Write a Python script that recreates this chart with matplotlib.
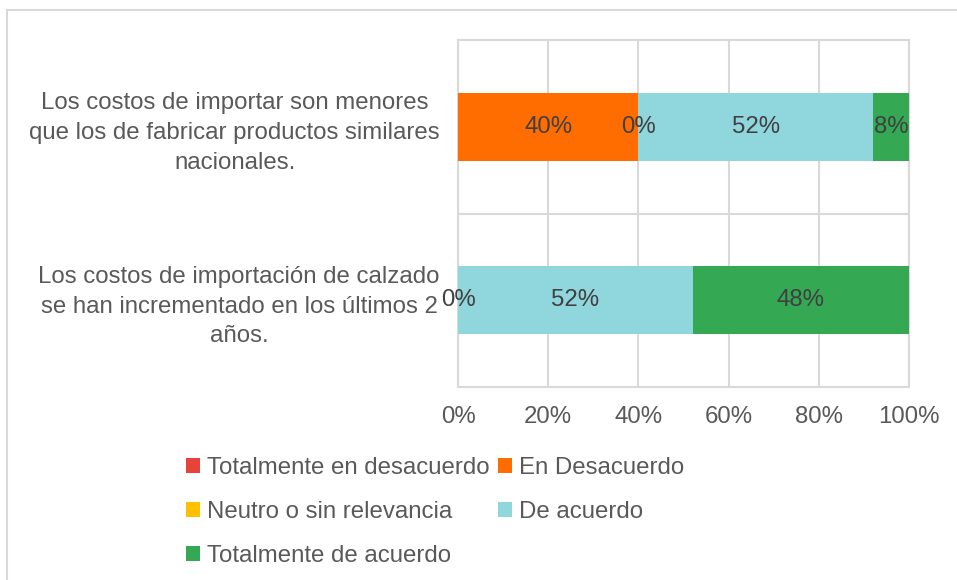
import matplotlib.pyplot as plt
from matplotlib.patches import Rectangle

plt.rcParams['font.family'] = ['Liberation Sans', 'DejaVu Sans']

categories = ["Los costos de importar son menores\nque los de fabricar productos similares\nnacionales.",
              "Los costos de importación de calzado\nse han incrementado en los últimos 2\naños."]
series = ["Totalmente en desacuerdo", "En Desacuerdo", "Neutro o sin relevancia",
          "De acuerdo", "Totalmente de acuerdo"]
values = [[0, 0], [40, 0], [0, 0], [52, 52], [8, 48]]
# which segments carry a visible data label
show_label = [[False, False], [True, False], [True, True], [True, True], [True, True]]
colors = ["#E8433A", "#FF6D00", "#FFC000", "#8FD6DD", "#34A853"]
xticks = [0, 20, 40, 60, 80, 100]
xticklabels = ["0%", "20%", "40%", "60%", "80%", "100%"]

grid_c = "#d9d9d9"
text_c = "#595959"
fs = 17.3

fig = plt.figure(figsize=(9.57, 5.8), dpi=100)
ax = fig.add_axes([458/957, 1-387/580, 451/957, 347/580])

ypos = [0, 1]
left = [0, 0]
handles = []
for i, name in enumerate(series):
    b = ax.barh(ypos, values[i], left=left, height=0.39, color=colors[i], label=name, zorder=3)
    handles.append(b)
    for j in range(len(ypos)):
        if show_label[i][j]:
            ax.text(left[j] + values[i][j] / 2, ypos[j], f"{values[i][j]}%", ha='center', va='center',
                    fontsize=fs, color="#404040", zorder=4)
    left = [left[j] + values[i][j] for j in range(len(ypos))]

ax.set_xlim(0, 100)
ax.set_ylim(1.5, -0.5)
ax.set_xticks(xticks)
ax.set_xticklabels(xticklabels)
ax.set_yticks(ypos)
ax.set_yticklabels(categories, multialignment='center', linespacing=1.45)
ax.tick_params(axis='x', length=0, pad=14, labelsize=fs, labelcolor=text_c)
ax.tick_params(axis='y', length=0, pad=13, labelsize=fs, labelcolor=text_c)
ax.grid(axis='x', color=grid_c, linewidth=1.5, zorder=0)
ax.axhline(0.5, color=grid_c, linewidth=1.5, zorder=0)
for s in ax.spines.values():
    s.set_color(grid_c)
    s.set_linewidth(1.5)

# legend filled row by row
order = [0, 2, 4, 1, 3]
ax.legend([handles[k] for k in order], [series[k] for k in order], ncol=2, frameon=False,
          loc='upper left', bbox_to_anchor=(186/957, 1-457/580), bbox_transform=fig.transFigure,
          fontsize=fs, labelcolor=text_c, handlelength=0.58, handleheight=0.58,
          handletextpad=0.3, columnspacing=0.35, labelspacing=0.92, borderpad=0, borderaxespad=0)

# outer chart border (cropped on right and bottom)
fig.patches.append(Rectangle((7/957, -0.1), 1.1, 1 - 10/580 + 0.1, transform=fig.transFigure,
                             fill=False, edgecolor=grid_c, linewidth=1.5))

fig.savefig("out.png", dpi=100)
